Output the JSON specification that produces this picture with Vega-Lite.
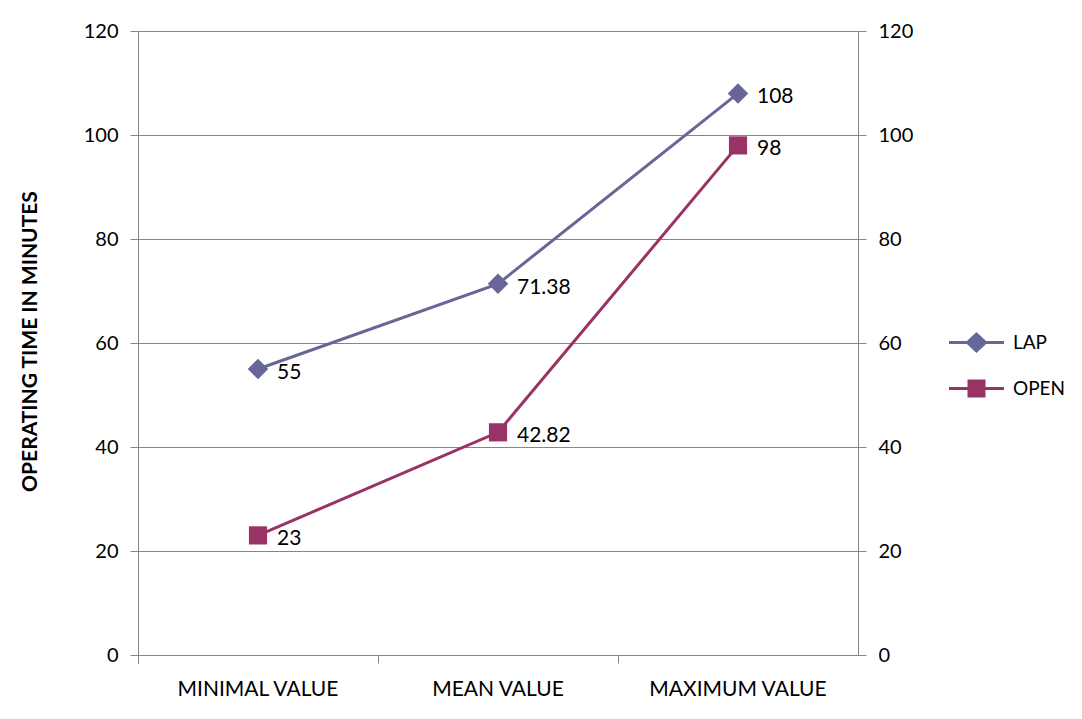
{
  "$schema": "https://vega.github.io/schema/vega-lite/v6.json",
  "width": 720,
  "height": 624,
  "autosize": {"type": "none"},
  "padding": {"left": 138, "top": 31, "right": 224, "bottom": 64},
  "background": "white",
  "config": {
    "font": "Lato",
    "view": {"stroke": null},
    "axis": {"labelFont": "Lato", "titleFont": "Lato", "labelColor": "black", "domainColor": "#868686", "tickColor": "#868686", "gridColor": "#868686", "tickSize": 8}
  },
  "data": {
    "values": [
      {"category": "MINIMAL VALUE", "series": "LAP", "value": 55, "label": "55"},
      {"category": "MEAN VALUE", "series": "LAP", "value": 71.38, "label": "71.38"},
      {"category": "MAXIMUM VALUE", "series": "LAP", "value": 108, "label": "108"},
      {"category": "MINIMAL VALUE", "series": "OPEN", "value": 23, "label": "23"},
      {"category": "MEAN VALUE", "series": "OPEN", "value": 42.82, "label": "42.82"},
      {"category": "MAXIMUM VALUE", "series": "OPEN", "value": 98, "label": "98"}
    ]
  },
  "encoding": {
    "x": {
      "field": "category", "type": "nominal", "sort": null,
      "scale": {"type": "band", "paddingInner": 0, "paddingOuter": 0},
      "axis": {"title": null, "labelAngle": 0, "bandPosition": 0, "tickExtra": true, "grid": false, "labelFontSize": 21, "labelPadding": 15}
    },
    "color": {
      "field": "series", "type": "nominal",
      "scale": {"domain": ["LAP", "OPEN"], "range": ["#666699", "#993366"]},
      "legend": {
        "title": null, "orient": "none", "legendX": 827, "legendY": 300,
        "symbolSize": 400, "symbolStrokeWidth": 3, "labelFontSize": 19, "labelFont": "Lato", "labelColor": "black",
        "labelOffset": 25, "rowPadding": 18,
        "encode": {
          "symbols": {
            "update": {
              "shape": {"signal": "datum.value === 'LAP' ? 'M-2.75,0H2.75M0,-0.85L0.9,0L0,0.85L-0.9,0Z' : 'M-2.75,0H2.75M-0.75,-0.75H0.75V0.75H-0.75Z'"},
              "fill": {"signal": "scale('color', datum.value)"},
              "stroke": {"signal": "scale('color', datum.value)"},
              "fillOpacity": {"value": 1},
              "strokeOpacity": {"value": 1},
              "strokeWidth": {"value": 3}
            }
          }
        }
      }
    }
  },
  "layer": [
    {
      "mark": {"type": "line", "strokeWidth": 3},
      "encoding": {
        "y": {
          "field": "value", "type": "quantitative",
          "scale": {"domain": [0, 120], "nice": false},
          "axis": {"orient": "left", "values": [0, 20, 40, 60, 80, 100, 120], "title": "OPERATING TIME IN MINUTES", "titleFontSize": 21, "titleFontWeight": "bold", "titleColor": "black", "titleX": -108, "titleY": 310, "titleAngle": -90, "titleAlign": "center", "titleBaseline": "middle", "labelFontSize": 20, "labelPadding": 12, "grid": true}
        }
      }
    },
    {
      "transform": [{"filter": "datum.series === 'LAP'"}],
      "mark": {"type": "point", "filled": true, "opacity": 1, "shape": "diamond", "size": 420},
      "encoding": {
        "y": {
          "field": "value", "type": "quantitative",
          "axis": {"orient": "right", "values": [0, 20, 40, 60, 80, 100, 120], "title": null, "labelFontSize": 20, "labelPadding": 12, "grid": false}
        }
      }
    },
    {
      "transform": [{"filter": "datum.series === 'OPEN'"}],
      "mark": {"type": "point", "filled": true, "opacity": 1, "shape": "square", "size": 330},
      "encoding": {
        "y": {"field": "value", "type": "quantitative", "axis": null}
      }
    },
    {
      "mark": {"type": "text", "align": "left", "baseline": "middle", "dx": 19, "dy": 4, "fontSize": 21, "font": "Lato", "color": "black"},
      "encoding": {
        "y": {"field": "value", "type": "quantitative", "axis": null},
        "text": {"field": "label"},
        "color": {"value": "black"}
      }
    }
  ],
  "resolve": {"axis": {"y": "independent"}}
}
